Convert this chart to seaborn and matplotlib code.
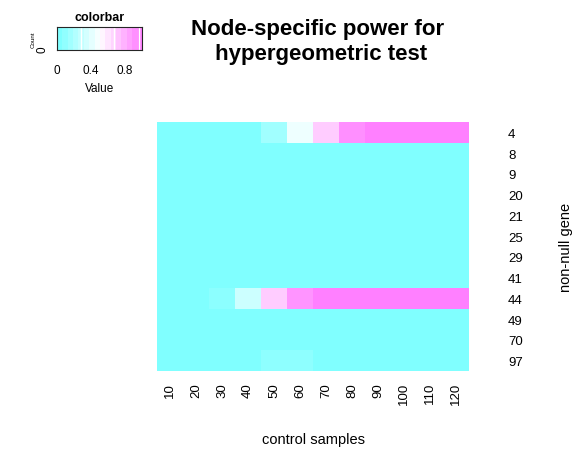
import numpy as np
import pandas as pd
import matplotlib
matplotlib.use("Agg")
import matplotlib.pyplot as plt
import seaborn as sns
from matplotlib.colors import LinearSegmentedColormap

# data
control_samples = [10, 20, 30, 40, 50, 60, 70, 80, 90, 100, 110, 120]
genes = [4, 8, 9, 20, 21, 25, 29, 41, 44, 49, 70, 97]
power_gene4 = [0, 0, 0, 0, 0.13, 0.43, 0.70, 0.94, 1, 1, 1, 1]
power_gene44 = [0, 0, 0.05, 0.30, 0.70, 0.92, 1, 1, 1, 1, 1, 1]
power_gene97 = [0, 0, 0, 0, 0.055, 0.055, 0, 0, 0, 0, 0, 0]
power_zero = [0] * 12

power = pd.DataFrame(
    [power_zero] * len(genes), index=genes, columns=control_samples, dtype=float
)
power.loc[4] = power_gene4
power.loc[44] = power_gene44
power.loc[97] = power_gene97

sns.set_style("white")
plt.rcParams["font.family"] = ["Liberation Sans", "DejaVu Sans"]
plt.rcParams["text.color"] = "black"
plt.rcParams["axes.labelcolor"] = "black"
plt.rcParams["xtick.color"] = "black"
plt.rcParams["ytick.color"] = "black"

# cm.colors-like palette: cyan -> white -> magenta
cmap = LinearSegmentedColormap.from_list(
    "cm", ["#80FFFF", "#FFFFFF", "#FF80FF"], N=256
)

fig = plt.figure(figsize=(5.75, 4.52), dpi=100)

# main heatmap
ax = fig.add_axes([0.273, 0.177, 0.543, 0.551])
sns.heatmap(power, ax=ax, cmap=cmap, vmin=0, vmax=1, cbar=False,
            xticklabels=True, yticklabels=True)
ax.yaxis.tick_right()
ax.tick_params(axis="y", length=0, labelsize=9.5, rotation=0)
for lbl in ax.get_yticklabels():
    lbl.set_horizontalalignment("left")
ax.tick_params(axis="y", pad=28)
ax.tick_params(axis="x", length=0, pad=8, labelsize=9.5, rotation=90)
for lbl in ax.get_xticklabels():
    lbl.set_verticalalignment("top")
ax.set_xlabel("control samples", fontsize=10.5, labelpad=20)
ax.set_ylabel("non-null gene", fontsize=10.5, rotation=90, labelpad=26)
ax.yaxis.set_label_position("right")

fig.text(0.553, 0.907, "Node-specific power for\n hypergeometric test",
         ha="center", va="center", fontsize=16, fontweight="bold",
         linespacing=1.2)

# colour key
kax = fig.add_axes([0.099, 0.887, 0.148, 0.051])
grad = np.linspace(0, 1, 16).reshape(1, -1)
kax.imshow(grad, aspect="auto", cmap=cmap, extent=[0, 1, 0, 1],
           vmin=0, vmax=1)
for xv in [0.28, 0.67, 0.96]:
    kax.axvline(xv, color="white", lw=1)
kax.set_xlim(0, 1)
kax.set_ylim(0, 1)
kax.set_xticks([0, 0.2, 0.4, 0.6, 0.8, 1.0])
kax.set_xticklabels(["0", "", "0.4", "", "0.8", ""], fontsize=8.5)
kax.set_yticks(np.linspace(0.05, 0.95, 7))
kax.set_yticklabels(["0", "", "", "", "", "", ""], fontsize=8.5, rotation=90,
                    va="center")
kax.tick_params(axis="x", length=5, width=0.8, direction="out", pad=5)
kax.tick_params(axis="y", length=4, width=0.8, direction="out", pad=2)
for sp in kax.spines.values():
    sp.set_linewidth(0.8)
kax.set_xlabel("Value", fontsize=8.5, labelpad=4)
kax.set_ylabel("Count", fontsize=4.5, labelpad=1)
kax.set_title("colorbar", fontsize=9, fontweight="bold", pad=5)

fig.savefig("out.png", dpi=100)
